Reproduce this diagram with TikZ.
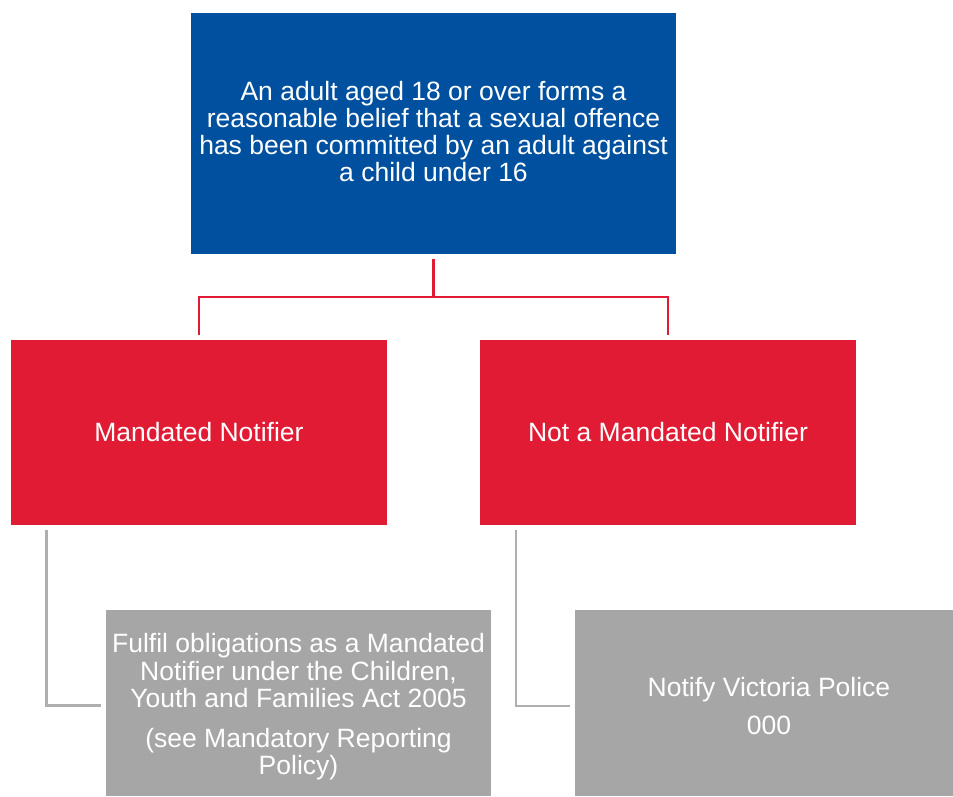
\documentclass[tikz,border=0pt]{standalone}
\usepackage{fontspec}
\setmainfont{Liberation Sans}
\definecolor{topblue}{RGB}{0,80,160}
\definecolor{boxred}{RGB}{225,27,52}
\definecolor{boxgray}{RGB}{166,166,166}
\definecolor{linegray}{RGB}{175,175,175}
\begin{document}
\begin{tikzpicture}[x=1pt,y=-1pt,
  box/.style={draw=none,inner sep=0pt,text=white,align=center,
    font=\fontsize{26.5}{27.3}\selectfont},
  redline/.style={draw=boxred,line width=2.6pt},
  grayline/.style={draw=linegray,line width=2.6pt}]
\useasboundingbox (0,0) rectangle (953,796);
\fill[topblue] (191,13) rectangle (676,254);
\node[box] (top) at (433.5,131.5) {An adult aged 18 or over forms a\\reasonable belief that a sexual offence\\has been committed by an adult against\\a child under 16};
\fill[boxred] (11,340) rectangle (387,525);
\node[box] (mn) at (199,432.5) {Mandated Notifier};
\fill[boxred] (480,340) rectangle (856,525);
\node[box] (nmn) at (668,432.5) {Not a Mandated Notifier};
\fill[boxgray] (106,610) rectangle (491,796);
\node[box] (ful) at (298.5,707) {Fulfil obligations as a Mandated\\Notifier under the Children,\\Youth and Families Act 2005\\[13pt](see Mandatory Reporting\\Policy)};
\fill[boxgray] (575,610) rectangle (953,796);
\node[box] (pol) at (769,706) {Notify Victoria Police\\[10pt]000};
\coordinate (t0) at (433.5,259);
\coordinate (tj) at (433.5,297);
\coordinate (l1) at (199,297);
\coordinate (l2) at (199,335);
\coordinate (r1) at (668,297);
\coordinate (r2) at (668,335);
\draw[redline] (t0) -- (tj);
\draw[redline] (l2) -- (l1) -- (r1) -- (r2);
\coordinate (a0) at (46.5,530);
\coordinate (a1) at (46.5,705.5);
\coordinate (a2) at (101,705.5);
\draw[grayline] (a0) -- (a1) -- (a2);
\coordinate (b0) at (516,530);
\coordinate (b1) at (516,706);
\coordinate (b2) at (570,706);
\draw[grayline] (b0) -- (b1) -- (b2);
\end{tikzpicture}
\end{document}
